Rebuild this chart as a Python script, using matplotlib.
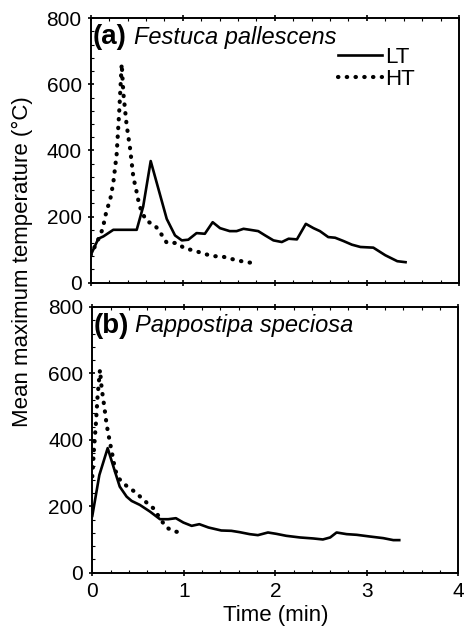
import matplotlib
matplotlib.use("Agg")
import matplotlib.pyplot as plt
from matplotlib.ticker import MultipleLocator

plt.rcParams["font.family"] = ["Liberation Sans", "DejaVu Sans"]

# ------------------------------------------------------------
# Данные
# ------------------------------------------------------------

# (a) Festuca pallescens
fp_lt_time = [0, 0.083, 0.138, 0.246, 0.5, 0.57, 0.652, 0.826, 0.916, 0.99, 1.06,
              1.15, 1.24, 1.325, 1.405, 1.51, 1.585, 1.66, 1.73, 1.82, 1.895, 1.985,
              2.076, 2.15, 2.24, 2.337, 2.42, 2.49, 2.58, 2.655, 2.746, 2.837, 2.93,
              3.07, 3.2, 3.33, 3.42]
fp_lt_temp = [83, 133, 140, 160, 160, 230, 368, 193, 143, 128, 130,
              150, 148, 183, 165, 156, 156, 163, 160, 156, 143, 128,
              123, 133, 131, 178, 165, 156, 138, 136, 126, 115, 108,
              106, 83, 65, 62]

fp_ht_time = [0, 0.094, 0.13, 0.174, 0.21, 0.246, 0.282, 0.31, 0.337, 0.355,
              0.39, 0.427, 0.464, 0.493, 0.529, 0.6, 0.7, 0.764, 0.826, 0.935,
              1.025, 1.116, 1.225, 1.33, 1.42, 1.51, 1.62, 1.71, 1.82]
fp_ht_temp = [83, 138, 163, 220, 248, 303, 388, 518, 662, 573,
              478, 408, 318, 283, 233, 188, 173, 148, 121, 120,
              103, 98, 88, 80, 80, 73, 66, 61, 60]

# (b) Pappostipa speciosa
ps_lt_time = [0, 0.077, 0.168, 0.23, 0.30, 0.375, 0.43, 0.52, 0.63, 0.74, 0.83,
              0.914, 0.995, 1.086, 1.17, 1.27, 1.41, 1.52, 1.61, 1.72, 1.81, 1.92,
              2.01, 2.12, 2.27, 2.415, 2.52, 2.6, 2.67, 2.78, 2.89, 3.03, 3.18,
              3.29, 3.355]
ps_lt_temp = [171, 294, 375, 320, 259, 229, 216, 204, 184, 161, 161,
              164, 151, 141, 146, 136, 127, 126, 122, 116, 113, 121,
              117, 111, 106, 103, 100, 106, 121, 116, 114, 109, 104,
              98, 98]

ps_ht_time = [0, 0.018, 0.04, 0.058, 0.084, 0.102, 0.131, 0.157, 0.193, 0.23,
              0.248, 0.295, 0.375, 0.477, 0.568, 0.667, 0.805, 0.893, 0.995]
ps_ht_temp = [290, 370, 452, 533, 611, 556, 500, 445, 392, 340,
              310, 282, 261, 241, 217, 194, 137, 124, 121]

panel_labels = ["(a)", "(b)"]
species = ["Festuca pallescens", "Pappostipa speciosa"]

# ------------------------------------------------------------
# График
# ------------------------------------------------------------

fig = plt.figure(figsize=(4.65, 6.3), dpi=100)
ax_a = fig.add_axes([0.195, 0.5513, 0.792, 0.4197])
ax_b = fig.add_axes([0.1985, 0.091, 0.787, 0.4217])

solid_kw = dict(color="black", lw=1.9, solid_joinstyle="round")
dot_kw = dict(color="black", lw=3.0, linestyle=(0, (0.1, 2.0)),
              dash_capstyle="round")

ax_a.plot(fp_lt_time, fp_lt_temp, label="LT", **solid_kw)
ax_a.plot(fp_ht_time, fp_ht_temp, label="HT", **dot_kw)
ax_b.plot(ps_lt_time, ps_lt_temp, **solid_kw)
ax_b.plot(ps_ht_time, ps_ht_temp, **dot_kw)

for ax, lab, sp in zip([ax_a, ax_b], panel_labels, species):
    ax.set_xlim(0, 4)
    ax.set_ylim(0, 800)
    ax.xaxis.set_major_locator(MultipleLocator(1))
    ax.xaxis.set_minor_locator(MultipleLocator(0.2))
    ax.yaxis.set_major_locator(MultipleLocator(200))
    ax.yaxis.set_minor_locator(MultipleLocator(40))
    ax.tick_params(which="major", direction="inout", length=5, width=1.2,
                   labelsize=15, top=True)
    ax.tick_params(which="minor", direction="in", length=2.5, width=0.8, top=True)
    ax.tick_params(axis="y", which="major", pad=4)
    ax.tick_params(axis="x", which="major", pad=4)
    for s in ax.spines.values():
        s.set_linewidth(1.4)
    ax.text(0.004, 0.929, lab, transform=ax.transAxes, fontsize=20,
            fontweight="bold", va="center", ha="left")
    ax.text(0.117, 0.929, sp, transform=ax.transAxes, fontsize=17,
            style="italic", va="center", ha="left")

ax_a.tick_params(labelbottom=False)
ax_b.set_xlabel("Time (min)", fontsize=16, labelpad=3)

ax_a.legend(loc="upper right", bbox_to_anchor=(0.905, 0.925), frameon=False,
            fontsize=16, handlelength=2.0, handletextpad=0.15, labelspacing=0.05,
            borderaxespad=0)

fig.text(0.048, 0.584, "Mean maximum temperature (°C)", rotation=90,
         fontsize=16, ha="center", va="center")

fig.savefig("out.png", dpi=100)
